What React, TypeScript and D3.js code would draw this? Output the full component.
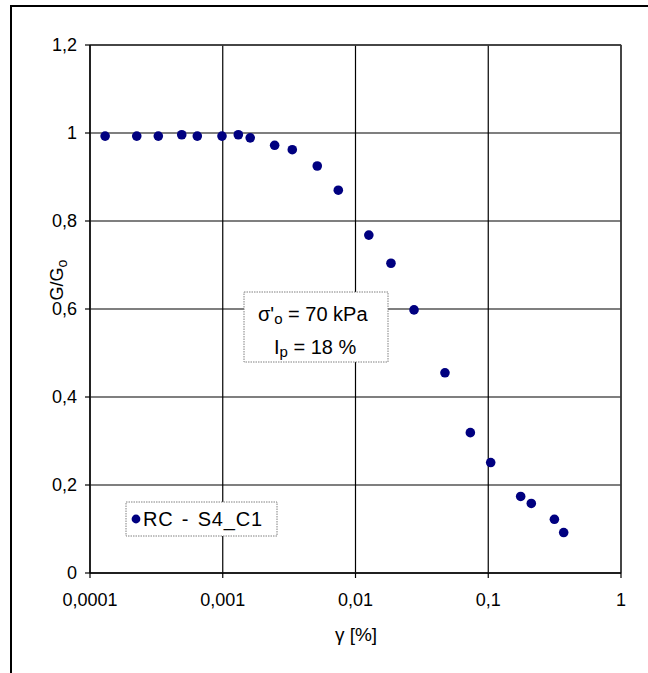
import React from 'react';
import * as d3 from 'd3';

const strain = [0.000130, 0.000225, 0.000327, 0.000491, 0.000643, 0.000987, 0.00131, 0.00161, 0.00246, 0.00334, 0.00515, 0.00742, 0.0126, 0.0185, 0.0276, 0.0472, 0.0733, 0.1043, 0.1755, 0.211, 0.315, 0.370];
const ratio = [0.993, 0.993, 0.993, 0.996, 0.993, 0.993, 0.996, 0.989, 0.972, 0.962, 0.925, 0.870, 0.768, 0.704, 0.598, 0.455, 0.319, 0.251, 0.174, 0.158, 0.122, 0.092];
const xTicks = [0.0001, 0.001, 0.01, 0.1, 1];
const xTickLabels = ['0,0001', '0,001', '0,01', '0,1', '1'];
const yTicks = [0, 0.2, 0.4, 0.6, 0.8, 1, 1.2];
const yTickLabels = ['0', '0,2', '0,4', '0,6', '0,8', '1', '1,2'];
const seriesName = 'RC - S4_C1';

const W = 648, H = 673;
const L = 90, R = 621, T = 45, B = 573;
const FONT = '"Liberation Sans", Arial, sans-serif';
const NAVY = '#000080';

export default function App() {
  const x = d3.scaleLog().domain([0.0001, 1]).range([L, R]);
  const y = d3.scaleLinear().domain([0, 1.2]).range([B, T]);
  const pts = strain.map((s, i) => ({ s, r: ratio[i] }));
  return (
    <svg width={W} height={H} style={{ position: 'absolute', left: 0, top: 0, background: '#fff' }} fontFamily={FONT}>
      <rect x={0} y={0} width={W} height={H} fill="#fff" />
      {/* outer chart border */}
      <rect x={11} y={6} width={640} height={700} fill="none" stroke="#000" strokeWidth={2} />
      {/* gridlines */}
      {yTicks.map((t, i) => (
        <line key={'gy' + i} x1={L} x2={R} y1={y(t)} y2={y(t)} stroke="#000" strokeWidth={1.2} />
      ))}
      {xTicks.map((t, i) => (
        <line key={'gx' + i} x1={x(t)} x2={x(t)} y1={T} y2={B} stroke="#000" strokeWidth={1.2} />
      ))}
      {/* plot border */}
      <rect x={L} y={T} width={R - L} height={B - T} fill="none" stroke="#808080" strokeWidth={1} />
      <line x1={R} x2={R} y1={T} y2={B} stroke="#333" strokeWidth={1.4} />
      <line x1={L} x2={R} y1={T} y2={T} stroke="#333" strokeWidth={1.4} />
      {/* axes */}
      <line x1={L} x2={L} y1={T} y2={B} stroke="#000" strokeWidth={1.4} />
      <line x1={L} x2={R} y1={B} y2={B} stroke="#000" strokeWidth={1.4} />
      {yTicks.map((t, i) => (
        <g key={'ty' + i}>
          <line x1={L - 5} x2={L} y1={y(t)} y2={y(t)} stroke="#000" strokeWidth={1.2} />
          <text x={77} y={y(t)} dy="0.36em" textAnchor="end" fontSize={18}>{yTickLabels[i]}</text>
        </g>
      ))}
      {xTicks.map((t, i) => (
        <g key={'tx' + i}>
          <line x1={x(t)} x2={x(t)} y1={B} y2={B + 5} stroke="#000" strokeWidth={1.2} />
          <text x={x(t)} y={606} textAnchor="middle" fontSize={18}>{xTickLabels[i]}</text>
        </g>
      ))}
      {/* axis titles */}
      <text x={356} y={641} textAnchor="middle" fontSize={19}>γ [%]</text>
      <text transform="translate(63,280) rotate(-90)" textAnchor="middle" fontSize={18}>
        G/G<tspan fontSize={14} dy={4}>o</tspan>
      </text>
      {/* points */}
      {pts.map((p, i) => (
        <circle key={'p' + i} cx={x(p.s)} cy={y(p.r)} r={4.8} fill={NAVY} />
      ))}
      {/* annotation box */}
      <rect x={244} y={292} width={144} height={70} fill="#fff" stroke="#808080" strokeWidth={1} strokeDasharray="1.5,1" />
      <text x={258} y={321} fontSize={20}>
        σ'<tspan fontSize={15} dy={3}>o</tspan><tspan dy={-3}> = 70 kPa</tspan>
      </text>
      <text x={274} y={354} fontSize={20}>
        I<tspan fontSize={15} dy={3}>p</tspan><tspan dy={-3}> = 18 %</tspan>
      </text>
      {/* legend */}
      <rect x={126} y={502} width={151} height={34} fill="#fff" stroke="#808080" strokeWidth={1} strokeDasharray="1.5,1" />
      <circle cx={136} cy={519} r={4.4} fill={NAVY} />
      <text x={143} y={526} fontSize={20} letterSpacing={0.8} wordSpacing={2}>{seriesName}</text>
    </svg>
  );
}
